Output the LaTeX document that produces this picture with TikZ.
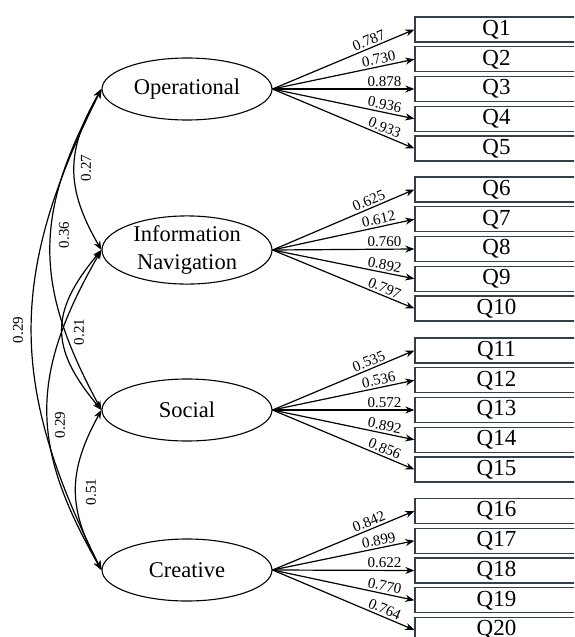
\documentclass[tikz,border=0pt]{standalone}
\usepackage{fontspec}
\setmainfont{Liberation Serif}
\usetikzlibrary{shapes.geometric,arrows.meta}
\definecolor{boxline}{RGB}{50,64,78}
\begin{document}
\begin{tikzpicture}[x=1pt,y=1pt,
  latent/.style={draw, ellipse, line width=1.1pt, minimum width=170pt, minimum height=62pt, inner sep=0pt, font=\fontsize{22.5}{27.5}\selectfont, align=center},
  item/.style={draw=boxline, line width=1.3pt, minimum width=163pt, minimum height=25pt, inner sep=0pt, font=\fontsize{23}{24}\selectfont},
  load/.style={-{Stealth[length=9pt,width=7pt]}, line width=1.2pt},
  cov/.style={{Stealth[length=9pt,width=7pt]}-{Stealth[length=9pt,width=7pt]}, line width=1.2pt},
  lab/.style={font=\fontsize{15}{16}\selectfont, sloped, above, inner sep=2pt},
  clab/.style={font=\fontsize{15}{16}\selectfont, rotate=90, inner sep=0pt}
]
\useasboundingbox (0,0) rectangle (574,-637);
\clip (0,0) rectangle (574,-637);

\node[latent] (op) at (187,-89) {Operational};
\node[latent] (inf) at (187,-250) {Information\\Navigation};
\node[latent] (soc) at (187,-410) {Social};
\node[latent] (cre) at (187,-570) {Creative};

\foreach \i/\y in {1/29.5,2/59.25,3/89,4/118.75,5/148.5,
                   6/189.5,7/219.25,8/249,9/278.75,10/308.5,
                   11/350.5,12/380.25,13/410,14/439.75,15/469.5,
                   16/511,17/540.75,18/570.5,19/600.25,20/630}
  \node[item] (q\i) at (496.5,-\y) {Q\i};

\foreach \i/\p/\v in {1/.70/0.787,2/.76/0.730,3/.79/0.878,4/.78/0.936,5/.77/0.933}
  \draw[load] (op.east) -- node[lab,pos=\p]{\v} (q\i.west);
\foreach \i/\p/\v in {6/.70/0.625,7/.76/0.612,8/.79/0.760,9/.78/0.892,10/.77/0.797}
  \draw[load] (inf.east) -- node[lab,pos=\p]{\v} (q\i.west);
\foreach \i/\p/\v in {11/.70/0.535,12/.76/0.536,13/.79/0.572,14/.78/0.892,15/.77/0.856}
  \draw[load] (soc.east) -- node[lab,pos=\p]{\v} (q\i.west);
\foreach \i/\p/\v in {16/.70/0.842,17/.76/0.899,18/.79/0.622,19/.78/0.770,20/.77/0.764}
  \draw[load] (cre.east) -- node[lab,pos=\p]{\v} (q\i.west);

\draw[cov] (op.west) .. controls +(-36,-62) and +(-36,62) .. (inf.west);
\draw[cov] (op.west) .. controls +(-68,-125) and +(-68,125) .. (soc.west);
\draw[cov] (op.west) .. controls +(-93,-185) and +(-93,185) .. (cre.west);
\draw[cov] (inf.west) .. controls +(-52,-62) and +(-52,62) .. (soc.west);
\draw[cov] (inf.west) .. controls +(-72,-125) and +(-72,125) .. (cre.west);
\draw[cov] (soc.west) .. controls +(-34,-62) and +(-34,62) .. (cre.west);

\node[clab] (c1) at (86,-168) {0.27};
\node[clab] (c2) at (64,-235) {0.36};
\node[clab] (c3) at (18,-330) {0.29};
\node[clab] (c4) at (79,-332) {0.21};
\node[clab] (c5) at (60,-425) {0.29};
\node[clab] (c6) at (91,-492) {0.51};
\end{tikzpicture}
\end{document}
